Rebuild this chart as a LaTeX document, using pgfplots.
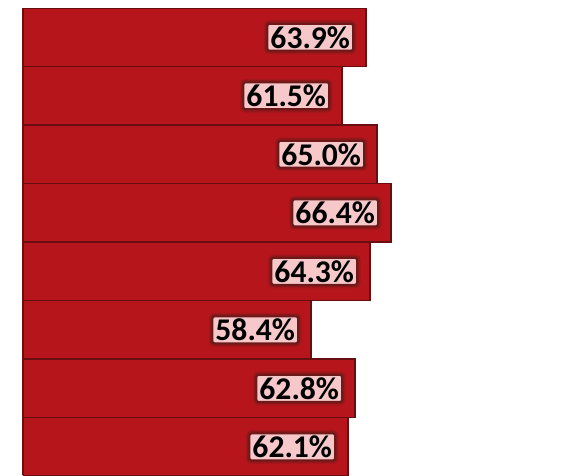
\documentclass[border=0pt]{standalone}
\usepackage{fontspec}
\setmainfont{Carlito}
\usepackage{pgfplots}
\pgfplotsset{compat=1.18}
\definecolor{barred}{RGB}{183,21,28}
\definecolor{bardark}{RGB}{105,14,16}
\definecolor{labpink}{RGB}{246,200,202}
\definecolor{glow}{RGB}{110,25,25}
\begin{document}
\begin{tikzpicture}
\begin{axis}[
  scale only axis,
  width=272pt, height=233.5pt,
  xmin=29.6, xmax=84.0,
  ymin=0.5, ymax=8.48,
  y dir=reverse,
  xbar, bar width=1,
  axis x line=none,
  axis y line*=left,
  y axis line style={draw=bardark, line width=0.9pt, -},
  ytick=\empty, xtick=\empty,
  clip=true,
  point meta=x,
  nodes near coords={\pgfmathprintnumber[fixed,fixed zerofill,precision=1,assume math mode=true]{\pgfplotspointmeta}\%},
  nodes near coords style={
    anchor=east, xshift=-6pt,
    font=\bfseries\fontsize{15.8}{18}\selectfont, text=black,
    fill=labpink, inner xsep=1.5pt, inner ysep=1.2pt,
    draw=glow, line width=1.0pt, rounded corners=1pt,
    preaction={draw=glow, draw opacity=0.25, line width=3.6pt},
    preaction={draw=glow, draw opacity=0.4, line width=2.4pt},
  },
]
\addplot[fill=barred, draw=bardark, line width=0.75pt] coordinates {
  (63.9,1) (61.5,2) (65.0,3) (66.4,4) (64.3,5) (58.4,6) (62.8,7) (62.1,8)
};
\end{axis}
\path (current axis.south west) ++(-11.5pt,0pt);
\path (current axis.north east) ++(0pt,4pt);
\end{tikzpicture}
\end{document}
